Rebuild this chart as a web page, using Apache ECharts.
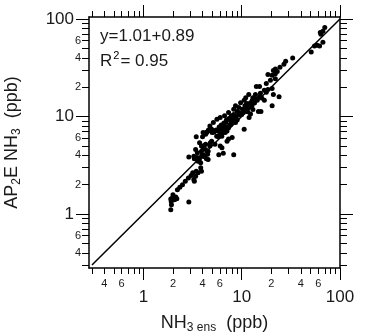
<!DOCTYPE html>
<html><head><meta charset="utf-8">
<script src="https://cdn.jsdelivr.net/npm/echarts@6/dist/echarts.min.js"></script>
<style>html,body{margin:0;padding:0;background:#fff}#c{width:380px;height:336px}</style>
</head><body><div id="c"></div>
<script>
// ---- data ----
const xVals = [1.90,1.93,1.92,1.97,1.90,2.05,2.14,2.00,2.19,2.10,2.90,2.22,2.35,2.50,2.67,2.87,3.06,3.26,3.30,3.40,3.60,3.90,3.83,3.45,3.18,
  2.90,3.26,3.45,3.60,3.73,3.83,3.95,4.20,4.38,4.56,3.54,3.45,4.05,4.15,4.29,3.90,4.56,4.05,4.38,4.75,4.95,5.00,5.35,5.57,5.80,6.05,6.28,6.55,5.80,6.28,
  6.80,7.10,7.35,6.90,7.35,7.85,8.30,8.00,8.65,7.70,9.35,10.2,10.8,11.4,11.8,12.3,12.7,13.0,13.8,14.4,15.2,15.5,17.0,14.1,15.2,17.8,19.6,20.4,22.0,18.5,
  21.0,22.0,24.5,26.9,28.0,33.0,20.4,17.8,21.0,24.0,20.4,17.0,15.7,14.8,11.9,12.3,10.6,6.30,5.85,6.50,8.30,8.00,7.35,7.10,5.35,6.05,8.65,9.35,9.75,10.6,
  11.0,11.8,9.00,8.30,7.35,6.70,6.05,5.60,5.15,4.75,4.95,4.55,4.30,3.73,3.90,3.40,51,55,58.5,62,67,63,67,70,64,
  5.5,5.9,6.2,6.6,7.0,7.5,7.8,8.2,6.4,7.2,7.6,8.8,9.5,10.4,11.0,11.5,12.8,13.5,14.0,4.4,4.6,4.0,5.2,6.0,6.9,9.0,10.0,11.2,13.0,16.0,18.5,22,23,
  3.7,3.5,3.3,4.1,4.5,4.3,4.8];
const yVals = [1.11,1.25,1.35,1.46,1.43,1.40,1.50,1.58,1.44,1.42,1.33,1.78,1.88,2.00,2.17,2.35,2.49,2.26,2.17,2.45,2.65,2.75,2.98,2.75,2.65,
  3.84,3.93,3.69,3.49,3.78,3.36,4.08,3.93,3.69,3.63,4.26,6.20,4.79,5.05,4.60,4.40,4.40,6.85,6.85,5.00,5.60,6.85,7.10,6.30,7.10,7.70,7.40,8.00,6.20,6.30,
  6.85,7.10,7.70,8.70,9.40,10.2,10.5,9.00,8.70,8.30,11.0,11.9,12.9,13.5,12.4,13.9,12.9,15.6,16.8,14.7,16.0,17.3,18.6,20.3,20.3,21.8,23.6,26.5,24.4,27.0,
  29.6,30.8,32.0,34.5,36.9,39.8,19.4,17.8,16.8,16.0,12.9,14.7,11.3,11.3,9.8,10.6,7.4,4.80,4.07,4.20,4.07,6.10,5.90,5.60,5.20,5.00,12.9,12.4,13.9,14.7,
  15.6,16.8,11.3,11.9,11.0,10.2,9.8,9.4,8.7,8.0,7.4,7.1,6.6,5.4,5.0,4.6,45.9,53,54,53,58,73,75,82,70,
  7.3,7.8,8.2,8.6,9.2,9.6,8.9,9.6,7.0,7.8,8.2,10.0,10.4,11.0,12.0,11.2,14.6,13.8,15.2,6.9,7.3,6.2,6.9,6.6,7.4,9.2,10.5,13.5,11.8,15.5,19.0,27.5,29,
  3.6,3.8,3.7,3.9,4.1,5.2,5.4];
const lineX = [0.3, 100];
const lineY = [0.3, 100];
const majorTicks = [1, 10, 100];
const minorTicks = [0.3,0.4,0.5,0.6,0.7,0.8,0.9,2,3,4,5,6,7,8,9,20,30,40,50,60,70,80,90];
const minorLabels = [0.4, 0.6, 2, 4, 6, 20, 40, 60];
const fitText = 'y=1.01+0.89';
const r2Text = '0.95';

const points = xVals.map((x, i) => [x, yVals[i]]);
const linePts = lineX.map((x, i) => [x, lineY[i]]);
const FF = '"Liberation Sans", Arial, sans-serif';
const TXT = '#1a1a1a';
const lead = v => String(Math.round(v / Math.pow(10, Math.floor(Math.log10(v) + 1e-9))));
const XMIN = 0.28, XMAX = 100, YMIN = 0.28, YMAX = 105;

function ax(pos, min, max, opt) {
  return Object.assign({
    type: 'log', logBase: 10, position: pos, min: min, max: max,
    splitLine: { show: false },
    axisLine: { show: false, lineStyle: { color: '#000', width: 1.5 } },
    axisTick: { show: false },
    axisLabel: { show: false },
  }, opt);
}
const lineOn = { show: true, lineStyle: { color: '#000', width: 1.5 } };
const minorTick = len => ({ show: true, inside: false, length: len, customValues: minorTicks, lineStyle: { color: '#000', width: 1 } });
const majorTick = len => ({ show: true, inside: false, length: len, customValues: majorTicks, lineStyle: { color: '#000', width: 1 } });
const smallLab = m => ({ show: true, customValues: minorLabels, formatter: v => lead(v), fontSize: 11, fontFamily: FF, color: TXT, margin: m });
const bigLab = m => ({ show: true, customValues: majorTicks, formatter: v => String(Math.round(v)), fontSize: 17, fontFamily: FF, color: TXT, margin: m });

const rich = {
  b: { fontSize: 18, fontFamily: FF, color: TXT },
  s: { fontSize: 12, fontFamily: FF, color: TXT, padding: [9, 0, 0, 0] },
};

const chart = echarts.init(document.getElementById('c'), null, { renderer: 'canvas' });
chart.setOption({
  animation: false,
  backgroundColor: '#fff',
  grid: { left: 89, right: 40, top: 17, bottom: 68, containLabel: false, outerBoundsMode: 'none' },
  xAxis: [
    ax('bottom', XMIN, XMAX, { axisLine: lineOn, axisTick: minorTick(6), axisLabel: smallLab(10) }),
    ax('bottom', XMIN, XMAX, { axisTick: majorTick(12), axisLabel: bigLab(21),
      name: '{b|NH}{s|3 ens}{b|  (ppb)}', nameLocation: 'middle', nameGap: 45,
      nameTextStyle: { rich: rich } }),
    ax('top', XMIN, XMAX, { axisLine: lineOn, axisTick: minorTick(6) }),
    ax('top', XMIN, XMAX, { axisTick: majorTick(12) }),
  ],
  yAxis: [
    ax('left', YMIN, YMAX, { axisLine: lineOn, axisTick: minorTick(7), axisLabel: smallLab(8) }),
    ax('left', YMIN, YMAX, { axisTick: majorTick(13), axisLabel: bigLab(15),
      name: '{b|AP}{s|2}{b|E NH}{s|3}{b|  (ppb)}', nameLocation: 'middle', nameGap: 66,
      nameTextStyle: { rich: rich } }),
    ax('right', YMIN, YMAX, { axisLine: lineOn, axisTick: minorTick(7) }),
    ax('right', YMIN, YMAX, { axisTick: majorTick(13) }),
  ],
  graphic: [
    { type: 'text', left: 100, top: 28, style: { text: fitText, fontSize: 17, fontFamily: FF, fill: TXT } },
    { type: 'text', left: 100, top: 50, style: {
      text: '{a|R}{p|2}{a|= ' + r2Text + '}',
      rich: { a: { fontSize: 17, fontFamily: FF, fill: TXT, color: TXT }, p: { fontSize: 11, fontFamily: FF, color: TXT, padding: [0, 1, 12, 1] } } } },
  ],
  series: [
    { type: 'line', data: linePts, xAxisIndex: 0, yAxisIndex: 0, showSymbol: false, symbol: 'none',
      lineStyle: { color: '#000', width: 1.5 }, z: 2 },
    { type: 'scatter', data: points, xAxisIndex: 0, yAxisIndex: 0, symbol: 'circle', symbolSize: 5,
      itemStyle: { color: '#000', opacity: 1 }, z: 3 },
  ],
});
</script></body></html>
